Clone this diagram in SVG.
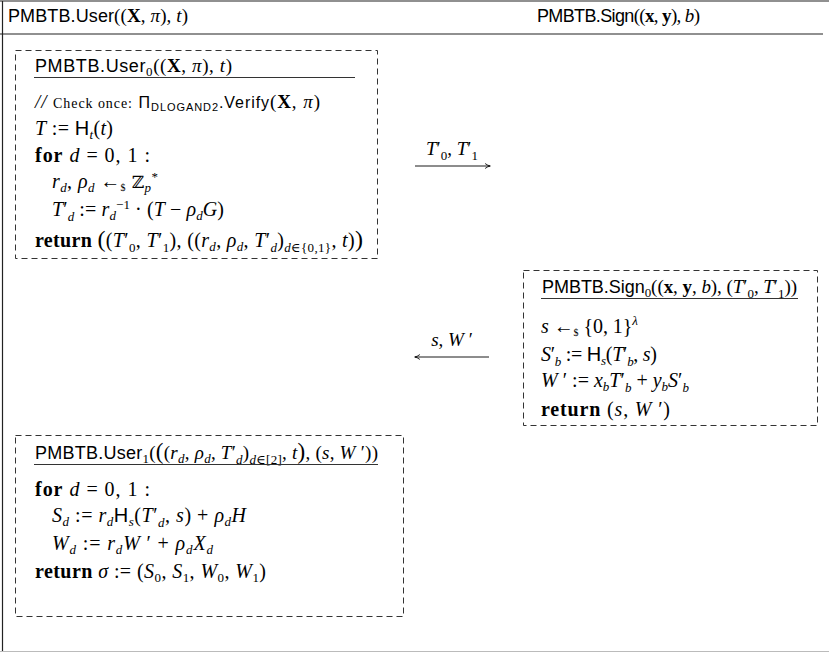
<svg xmlns="http://www.w3.org/2000/svg" width="829" height="653" viewBox="0 0 829 653">
<defs>
<style>
.sf{font-family:"Liberation Sans",Arial,sans-serif;font-style:normal;font-weight:normal}
.m{font-family:"Liberation Serif","DejaVu Serif",serif;font-size:19px;fill:#000}
.m20{font-size:20px}
.t{font-family:"Liberation Sans",Arial,sans-serif;font-size:18px;fill:#000}
.i{font-style:italic}
.b{font-weight:bold}
.s{font-size:13px}
.box{fill:none;stroke:#333;stroke-width:1;stroke-dasharray:6 4}
.ul{stroke:#333;stroke-width:1}
.frame{stroke:#222;stroke-width:1.2}
.conn{stroke:#000;stroke-width:0.9;fill:none}
</style>
<marker id="ah" viewBox="0 0 10 10" refX="9" refY="5" markerWidth="7" markerHeight="7" orient="auto" markerUnits="userSpaceOnUse">
<path d="M2,1.5 Q6,4.5 9.5,5 Q6,5.5 2,8.5" fill="none" stroke="#000" stroke-width="1.2"/>
</marker>
</defs>
<rect width="829" height="653" fill="#fff"/>

<g id="frame">
<line class="frame" x1="0" y1="1" x2="829" y2="1"/>
<line class="frame" x1="0" y1="34" x2="823" y2="34"/>
<line class="frame" x1="2.5" y1="1" x2="2.5" y2="651"/>
<line x1="0" y1="651.5" x2="829" y2="651.5" stroke="#bbb" stroke-width="1.2"/>
<text class="t" x="8" y="22" textLength="180" lengthAdjust="spacing">PMBTB.User<tspan class="m">((<tspan class="b">X</tspan>, <tspan class="i">π</tspan>), <tspan class="i">t</tspan>)</tspan></text>
<text class="t" x="537" y="22" textLength="163" lengthAdjust="spacing">PMBTB.Sign<tspan class="m">((<tspan class="b">x</tspan>, <tspan class="b">y</tspan>), <tspan class="i">b</tspan>)</tspan></text>
</g>

<g id="user0">
<rect class="box" x="15.5" y="50.5" width="362" height="208"/>
<text class="t" x="35" y="72" textLength="197" lengthAdjust="spacing">PMBTB.User<tspan class="m s" dy="4">0</tspan><tspan class="m" dy="-4">((<tspan class="b">X</tspan>, <tspan class="i">π</tspan>), <tspan class="i">t</tspan>)</tspan></text>
<line class="ul" x1="34" y1="77.5" x2="355" y2="77.5"/>
<text class="m" x="35" y="108" font-size="17" textLength="285" lengthAdjust="spacing"><tspan class="i">//</tspan> <tspan font-size="14">Check once:</tspan> <tspan class="sf" font-size="16">Π</tspan><tspan class="sf" font-size="11" dy="3">DLOGAND2</tspan><tspan class="sf" font-size="16" dy="-3">.Verify</tspan>(<tspan class="b">X</tspan>, <tspan class="i">π</tspan>)</text>
<text class="m m20" x="35" y="135" textLength="78" lengthAdjust="spacing"><tspan class="i">T</tspan> := <tspan class="sf">H</tspan><tspan class="s i" dy="4">t</tspan><tspan dy="-4">(</tspan><tspan class="i">t</tspan>)</text>
<text class="m m20" x="35" y="162" textLength="115" lengthAdjust="spacing"><tspan class="b">for</tspan>  <tspan class="i">d</tspan> = 0, 1 :</text>
<text class="m m20" x="52" y="188" textLength="106" lengthAdjust="spacing"><tspan class="i">r</tspan><tspan class="s i" dy="4">d</tspan><tspan dy="-4">, </tspan><tspan class="i">ρ</tspan><tspan class="s i" dy="4">d</tspan><tspan dy="-4"> ←</tspan><tspan font-size="10" dy="3">$</tspan><tspan dy="-3" font-family="DejaVu Serif" font-size="17"> ℤ</tspan><tspan class="s i" dy="4">p</tspan><tspan class="s" dy="-11">*</tspan></text>
<text class="m m20" x="52" y="216" textLength="172" lengthAdjust="spacing"><tspan class="i">T</tspan>′<tspan class="s i" dy="5">d</tspan><tspan dy="-5"> := </tspan><tspan class="i">r</tspan><tspan class="s i" dy="4">d</tspan><tspan class="s" dy="-11">−1</tspan><tspan dy="7"> · (</tspan><tspan class="i">T</tspan> − <tspan class="i">ρ</tspan><tspan class="s i" dy="4">d</tspan><tspan class="i" dy="-4">G</tspan>)</text>
<text class="m m20" x="35" y="247" textLength="328" lengthAdjust="spacing"><tspan class="b">return</tspan>  <tspan font-size="24">(</tspan>(<tspan class="i">T</tspan>′<tspan class="s" dy="5">0</tspan><tspan dy="-5">, </tspan><tspan class="i">T</tspan>′<tspan class="s" dy="5">1</tspan><tspan dy="-5">), ((</tspan><tspan class="i">r</tspan><tspan class="s i" dy="4">d</tspan><tspan dy="-4">, </tspan><tspan class="i">ρ</tspan><tspan class="s i" dy="4">d</tspan><tspan dy="-4">, </tspan><tspan class="i">T</tspan>′<tspan class="s i" dy="5">d</tspan><tspan dy="-5">)</tspan><tspan class="s" dy="5"><tspan class="i">d</tspan>∈{0,1}</tspan><tspan dy="-5">, </tspan><tspan class="i">t</tspan>)<tspan font-size="24">)</tspan></text>
</g>

<g id="sign0">
<rect class="box" x="523.5" y="270.5" width="294" height="155"/>
<text class="t" x="542" y="293" textLength="255" lengthAdjust="spacing">PMBTB.Sign<tspan class="m s" dy="4">0</tspan><tspan class="m" dy="-4">((<tspan class="b">x</tspan>, <tspan class="b">y</tspan>, <tspan class="i">b</tspan>), (<tspan class="i">T</tspan>′<tspan class="s" dy="5">0</tspan><tspan dy="-5">, </tspan><tspan class="i">T</tspan>′<tspan class="s" dy="5">1</tspan><tspan dy="-5">))</tspan></tspan></text>
<line class="ul" x1="541" y1="298.5" x2="798" y2="298.5"/>
<text class="m m20" x="541" y="333" textLength="97" lengthAdjust="spacing"><tspan class="i">s</tspan> ←<tspan font-size="10" dy="3">$</tspan><tspan dy="-3"> {0, 1}</tspan><tspan class="s i" dy="-8">λ</tspan></text>
<text class="m m20" x="541" y="361" textLength="116" lengthAdjust="spacing"><tspan class="i">S</tspan>′<tspan class="s i" dy="5">b</tspan><tspan dy="-5"> := </tspan><tspan class="sf">H</tspan><tspan class="s i" dy="4">s</tspan><tspan dy="-4">(</tspan><tspan class="i">T</tspan>′<tspan class="s i" dy="5">b</tspan><tspan dy="-5">, </tspan><tspan class="i">s</tspan>)</text>
<text class="m m20" x="541" y="387" textLength="148" lengthAdjust="spacing"><tspan class="i">W</tspan> ′ := <tspan class="i">x</tspan><tspan class="s i" dy="4">b</tspan><tspan class="i" dy="-4">T</tspan>′<tspan class="s i" dy="5">b</tspan><tspan dy="-5"> + </tspan><tspan class="i">y</tspan><tspan class="s i" dy="4">b</tspan><tspan class="i" dy="-4">S</tspan>′<tspan class="s i" dy="5">b</tspan></text>
<text class="m m20" x="541" y="416" textLength="129" lengthAdjust="spacing"><tspan class="b">return</tspan>   (<tspan class="i">s</tspan>, <tspan class="i">W</tspan> ′)</text>
</g>

<g id="user1">
<rect class="box" x="15.5" y="435.5" width="388" height="181"/>
<text class="t" x="35" y="459" textLength="343" lengthAdjust="spacing">PMBTB.User<tspan class="m s" dy="4">1</tspan><tspan class="m" dy="-4">(<tspan font-size="23">(</tspan>(<tspan class="i">r</tspan><tspan class="s i" dy="4">d</tspan><tspan dy="-4">, </tspan><tspan class="i">ρ</tspan><tspan class="s i" dy="4">d</tspan><tspan dy="-4">, </tspan><tspan class="i">T</tspan>′<tspan class="s i" dy="5">d</tspan><tspan dy="-5">)</tspan><tspan class="s" dy="5"><tspan class="i">d</tspan>∈[2]</tspan><tspan dy="-5">, </tspan><tspan class="i">t</tspan><tspan font-size="23">)</tspan>, (<tspan class="i">s</tspan>, <tspan class="i">W</tspan> ′))</tspan></text>
<line class="ul" x1="34" y1="464.5" x2="378" y2="464.5"/>
<text class="m m20" x="35" y="496" textLength="115" lengthAdjust="spacing"><tspan class="b">for</tspan>  <tspan class="i">d</tspan> = 0, 1 :</text>
<text class="m m20" x="52" y="522" textLength="194" lengthAdjust="spacing"><tspan class="i">S</tspan><tspan class="s i" dy="4">d</tspan><tspan dy="-4"> := </tspan><tspan class="i">r</tspan><tspan class="s i" dy="4">d</tspan><tspan class="sf" dy="-4">H</tspan><tspan class="s i" dy="4">s</tspan><tspan dy="-4">(</tspan><tspan class="i">T</tspan>′<tspan class="s i" dy="5">d</tspan><tspan dy="-5">, </tspan><tspan class="i">s</tspan>) + <tspan class="i">ρ</tspan><tspan class="s i" dy="4">d</tspan><tspan class="i" dy="-4">H</tspan></text>
<text class="m m20" x="52" y="550" textLength="161" lengthAdjust="spacing"><tspan class="i">W</tspan><tspan class="s i" dy="4">d</tspan><tspan dy="-4"> := </tspan><tspan class="i">r</tspan><tspan class="s i" dy="4">d</tspan><tspan class="i" dy="-4">W</tspan> ′ + <tspan class="i">ρ</tspan><tspan class="s i" dy="4">d</tspan><tspan class="i" dy="-4">X</tspan><tspan class="s i" dy="4">d</tspan></text>
<text class="m m20" x="35" y="578" textLength="231" lengthAdjust="spacing"><tspan class="b">return</tspan> <tspan class="i">σ</tspan> := (<tspan class="i">S</tspan><tspan class="s" dy="4">0</tspan><tspan dy="-4">, </tspan><tspan class="i">S</tspan><tspan class="s" dy="4">1</tspan><tspan dy="-4">, </tspan><tspan class="i">W</tspan><tspan class="s" dy="4">0</tspan><tspan dy="-4">, </tspan><tspan class="i">W</tspan><tspan class="s" dy="4">1</tspan><tspan dy="-4">)</tspan></text>
</g>

<g id="connectors">
<line class="conn" x1="415" y1="166" x2="490" y2="166" marker-end="url(#ah)"/>
<text class="m" x="452" y="155" text-anchor="middle"><tspan class="i">T</tspan>′<tspan class="s" dy="5">0</tspan><tspan dy="-5">, </tspan><tspan class="i">T</tspan>′<tspan class="s" dy="5">1</tspan></text>
<line class="conn" x1="489" y1="357" x2="415" y2="357" marker-end="url(#ah)"/>
<text class="m" x="452" y="346" text-anchor="middle"><tspan class="i">s</tspan>, <tspan class="i">W</tspan> ′</text>
</g>
</svg>
